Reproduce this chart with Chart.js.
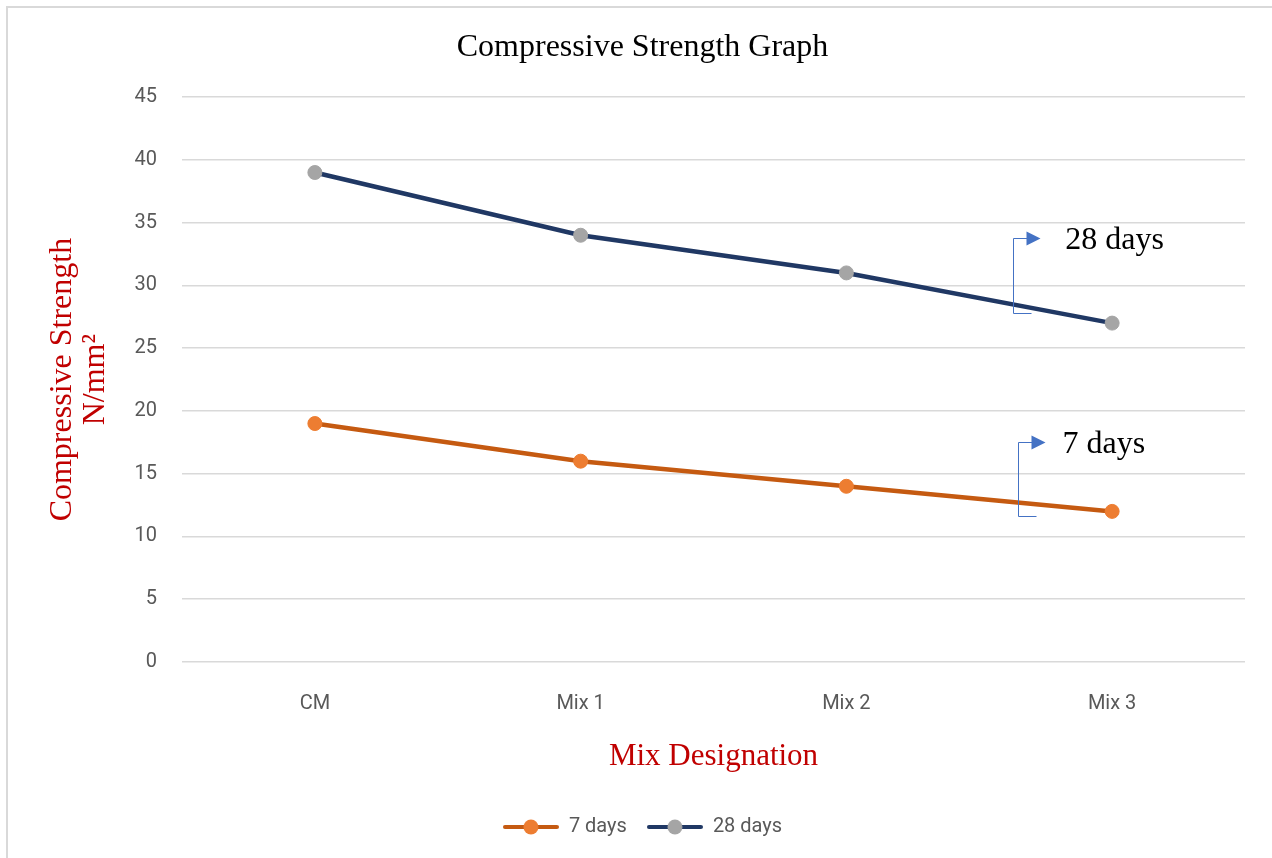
<!DOCTYPE html>
<html>
<head>
<meta charset="utf-8">
<script src="https://cdn.jsdelivr.net/npm/chart.js@4/dist/chart.umd.min.js"></script>
<style>
  html, body { margin: 0; padding: 0; background: #fff; }
  #wrap { width: 1272px; height: 858px; }
</style>
</head>
<body>
<div id="wrap"><canvas id="strengthChart" width="1272" height="858"></canvas></div>
<script>
// chart values
const mixLabels = ['CM', 'Mix 1', 'Mix 2', 'Mix 3'];
const days7 = [19, 16, 14, 12];
const days28 = [39, 34, 31, 27];
const yTicks = [0, 5, 10, 15, 20, 25, 30, 35, 40, 45];

// callout labels next to the lines (x as category index, y in N/mm2)
const calloutText = ['28 days', '7 days'];
const calloutX = [2.628, 2.647];
const calloutTextX = [2.824, 2.813];
const calloutTop = [33.75, 17.5];
const calloutBottom = [27.8, 11.65];

const color7 = '#c55a11', marker7 = '#ed7d31';
const color28 = '#203864', marker28 = '#a5a5a5';
const gridColor = '#d9d9d9';
const tickColor = '#595959';
const axisTitleColor = '#c00000';
const serif = '"Liberation Serif", "Times New Roman", serif';
const sans = 'Roboto, "Noto Sans", sans-serif';

// little line + dot used as the legend symbol
function legendSymbol(lineColor, dotColor) {
  const c = document.createElement('canvas');
  c.width = 56;
  c.height = 18;
  const ctx = c.getContext('2d');
  ctx.strokeStyle = lineColor;
  ctx.lineWidth = 4;
  ctx.lineCap = 'round';
  ctx.beginPath();
  ctx.moveTo(2, 9);
  ctx.lineTo(54, 9);
  ctx.stroke();
  ctx.fillStyle = dotColor;
  ctx.beginPath();
  ctx.arc(28, 9, 7.5, 0, Math.PI * 2);
  ctx.fill();
  return c;
}
const symbols = [legendSymbol(color7, marker7), legendSymbol(color28, marker28)];

const frame = {
  id: 'frame',
  beforeDraw(chart) {
    const ctx = chart.ctx;
    ctx.save();
    ctx.fillStyle = '#fff';
    ctx.fillRect(0, 0, chart.width, chart.height);
    ctx.strokeStyle = gridColor;
    ctx.lineWidth = 2;
    ctx.beginPath();
    ctx.moveTo(7, chart.height);
    ctx.lineTo(7, 7);
    ctx.lineTo(chart.width, 7);
    ctx.stroke();
    ctx.restore();
  }
};

const callouts = {
  id: 'callouts',
  afterDatasetsDraw(chart) {
    const ctx = chart.ctx;
    const xs = chart.scales.x, ys = chart.scales.y;
    ctx.save();
    for (let i = 0; i < calloutText.length; i++) {
      const x = Math.round(xs.getPixelForValue(calloutX[i])) + 0.5;
      const yTop = Math.round(ys.getPixelForValue(calloutTop[i])) + 0.5;
      const yBot = Math.round(ys.getPixelForValue(calloutBottom[i])) + 0.5;
      ctx.strokeStyle = '#4472c4';
      ctx.fillStyle = '#4472c4';
      ctx.lineWidth = 1;
      ctx.beginPath();
      ctx.moveTo(x + 18, yBot);
      ctx.lineTo(x, yBot);
      ctx.lineTo(x, yTop);
      ctx.lineTo(x + 14, yTop);
      ctx.stroke();
      ctx.beginPath();
      ctx.moveTo(x + 13, yTop - 7);
      ctx.lineTo(x + 27, yTop);
      ctx.lineTo(x + 13, yTop + 7);
      ctx.closePath();
      ctx.fill();
      ctx.fillStyle = '#000';
      ctx.font = '32px ' + serif;
      ctx.textBaseline = 'middle';
      ctx.textAlign = 'left';
      ctx.fillText(calloutText[i], xs.getPixelForValue(calloutTextX[i]), yTop + 2);
    }
    ctx.restore();
  }
};

const config = {
  type: 'line',
  data: {
    labels: mixLabels,
    datasets: [{
      label: '7 days',
      data: days7,
      borderColor: color7,
      borderWidth: 4.5,
      pointBackgroundColor: marker7,
      pointBorderColor: marker7,
      pointRadius: 7,
      pointBorderWidth: 1,
      tension: 0,
    }, {
      label: '28 days',
      data: days28,
      borderColor: color28,
      borderWidth: 4.5,
      pointBackgroundColor: marker28,
      pointBorderColor: marker28,
      pointRadius: 7,
      pointBorderWidth: 1,
      tension: 0,
    }]
  },
  options: {
    responsive: false,
    animation: false,
    layout: {
      padding: { top: 0, right: 27, bottom: 11, left: 40 }
    },
    plugins: {
      title: {
        display: true,
        text: 'Compressive Strength Graph',
        color: '#000',
        font: { family: serif, size: 32, weight: 'normal', lineHeight: 1.1 },
        padding: { top: 30, bottom: 32 }
      },
      legend: {
        position: 'bottom',
        labels: {
          usePointStyle: true,
          pointStyleWidth: 56,
          padding: 20,
          color: tickColor,
          font: { family: sans, size: 20 },
          generateLabels(chart) {
            return chart.data.datasets.map((ds, i) => ({
              text: ds.label,
              pointStyle: symbols[i],
              fontColor: tickColor,
              datasetIndex: i,
              hidden: false,
              lineWidth: 0,
              strokeStyle: 'transparent',
              fillStyle: 'transparent'
            }));
          }
        }
      },
      tooltip: { enabled: false }
    },
    scales: {
      x: {
        offset: true,
        grid: { display: false, drawTicks: false },
        border: { display: false },
        ticks: {
          color: tickColor,
          padding: 30,
          font: { family: sans, size: 20 }
        },
        title: {
          display: true,
          text: 'Mix Designation',
          color: axisTitleColor,
          font: { family: serif, size: 31 },
          padding: { top: 10, bottom: 22 }
        },
        afterFit(scale) { scale.height = 135; }
      },
      y: {
        min: 0,
        max: 45,
        afterBuildTicks(scale) {
          scale.ticks = yTicks.map(v => ({ value: v }));
        },
        grid: { color: gridColor, lineWidth: 1.5, drawTicks: false },
        border: { display: false },
        ticks: {
          color: tickColor,
          padding: 25,
          font: { family: sans, size: 20 }
        },
        title: {
          display: true,
          text: ['Compressive Strength', 'N/mm\u00b2'],
          color: axisTitleColor,
          font: { family: serif, size: 32, lineHeight: 1.03 },
          padding: { top: 6, bottom: 0 }
        },
        afterFit(scale) { scale.width = 142; }
      }
    }
  },
  plugins: [frame, callouts]
};

const strengthChart = new Chart(document.getElementById('strengthChart'), config);
</script>
</body>
</html>
